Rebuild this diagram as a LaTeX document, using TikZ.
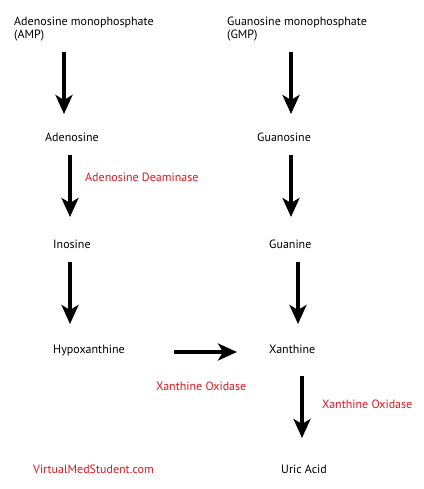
\documentclass[tikz,border=0pt]{standalone}
\usepackage{fontspec}
\setmainfont{PT Sans}
\usetikzlibrary{arrows.meta}
\definecolor{enzred}{RGB}{228,20,30}
\begin{document}
\begin{tikzpicture}[x=1pt,y=-1pt,
  lbl/.style={anchor=base west,inner sep=0pt,font=\fontsize{12}{14}\selectfont},
  enz/.style={lbl,text=enzred},
  big/.style={line width=3.5pt,-{Stealth[width=17pt,length=19pt,inset=5pt]}}]
\useasboundingbox (0,0) rectangle (423,489);
\node[lbl,align=left] (amp) at (14,26) {Adenosine monophosphate};
\node[lbl] (ampb) at (14,39) {(AMP)};
\node[lbl] (gmp) at (227,26) {Guanosine monophosphate};
\node[lbl] (gmpb) at (227,39) {(GMP)};
\node[lbl] (ado) at (45,142) {Adenosine};
\node[lbl] (guo) at (257,142) {Guanosine};
\node[enz] (ada) at (85,181) {Adenosine Deaminase};
\node[lbl] (ino) at (53,248) {Inosine};
\node[lbl] (gua) at (269,248) {Guanine};
\node[lbl] (hyp) at (53,353) {Hypoxanthine};
\node[lbl] (xan) at (269,353) {Xanthine};
\node[enz] (xo1) at (156,390) {Xanthine Oxidase};
\node[enz] (xo2) at (322,408) {Xanthine Oxidase};
\node[enz] (vms) at (33,473) {VirtualMedStudent.com};
\node[lbl] (uric) at (281,473) {Uric Acid};
\coordinate (a1s) at (64,52); \coordinate (a1e) at (64,114);
\coordinate (g1s) at (291,52); \coordinate (g1e) at (291,114);
\coordinate (a2s) at (70,155); \coordinate (a2e) at (70,217);
\coordinate (g2s) at (291,155); \coordinate (g2e) at (291,217);
\coordinate (a3s) at (70,262); \coordinate (a3e) at (70,324);
\coordinate (g3s) at (298,262); \coordinate (g3e) at (298,324);
\coordinate (hs) at (174,352); \coordinate (he) at (237,352);
\coordinate (x4s) at (302,376); \coordinate (x4e) at (302,438);
\draw[big] (a1s) -- (a1e);
\draw[big] (g1s) -- (g1e);
\draw[big] (a2s) -- (a2e);
\draw[big] (g2s) -- (g2e);
\draw[big] (a3s) -- (a3e);
\draw[big] (g3s) -- (g3e);
\draw[big] (hs) -- (he);
\draw[big] (x4s) -- (x4e);
\end{tikzpicture}
\end{document}
